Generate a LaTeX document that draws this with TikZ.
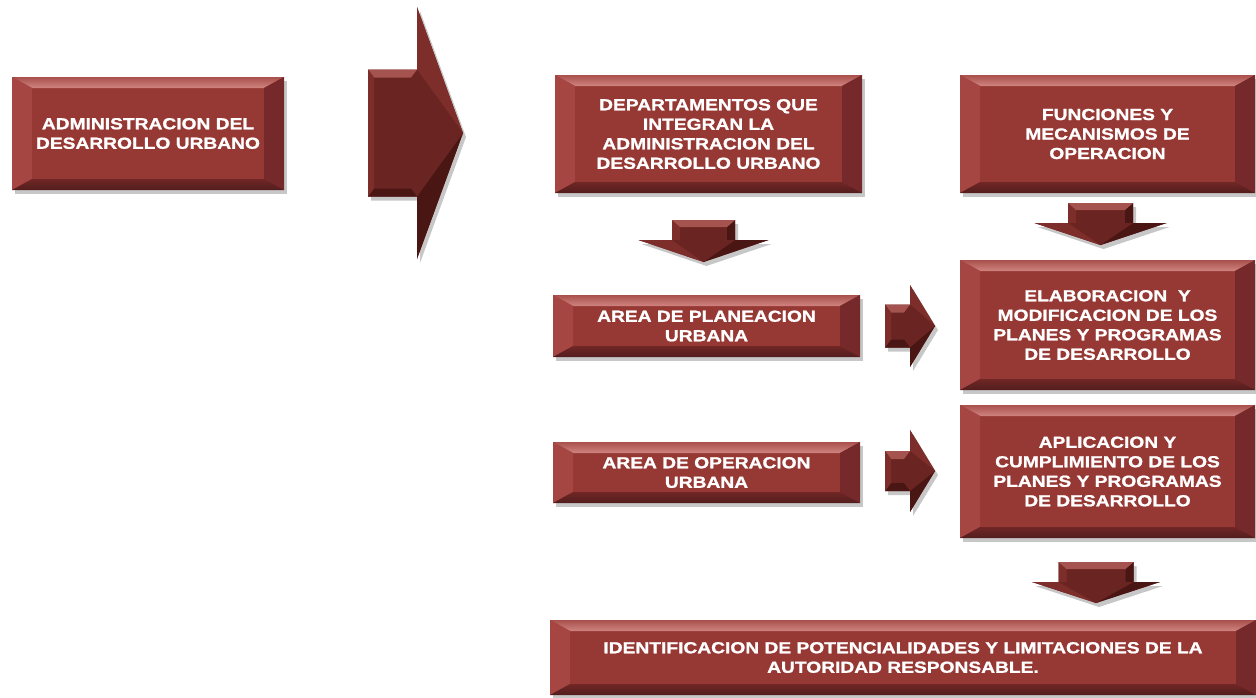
\documentclass[tikz,border=0pt]{standalone}
\usepackage{fontspec}
\newfontfamily\boxfont{Liberation Sans}[FakeStretch=1.2, BoldFeatures={FakeBold=1.2}]
\usetikzlibrary{calc,shadows}
\definecolor{boxred}{HTML}{963834}
\definecolor{bevtop}{HTML}{D08480}
\definecolor{bevtopedge}{HTML}{A9504C}
\definecolor{bevleft}{HTML}{A64643}
\definecolor{bevright}{HTML}{76292A}
\definecolor{bevbot}{HTML}{702725}
\definecolor{arrmain}{HTML}{6A2421}
\definecolor{arrlight}{HTML}{7E2E2A}
\definecolor{arrdark}{HTML}{4A1614}
\definecolor{arrtop}{HTML}{A4534E}
\tikzset{
  shade box/.style={drop shadow={shadow xshift=3pt, shadow yshift=-4pt, fill=black, opacity=0.22}},
  box/.style={shade box, fill=boxred, inner sep=0pt, align=center, text=white,
    font=\boxfont\bfseries\fontsize{16}{19.5}\selectfont,
    path picture={
      \path (path picture bounding box.north west) coordinate (pNW)
            (path picture bounding box.north east) coordinate (pNE)
            (path picture bounding box.south west) coordinate (pSW)
            (path picture bounding box.south east) coordinate (pSE);
      \shade[top color=bevtopedge, bottom color=bevtop] (pNW) -- (pNE) -- ([shift={(-20pt,-11pt)}]pNE) -- ([shift={(20pt,-11pt)}]pNW) -- cycle;
      \fill[bevleft] (pNW) -- ([shift={(20pt,-11pt)}]pNW) -- ([shift={(20pt,11pt)}]pSW) -- (pSW) -- cycle;
      \fill[bevright] (pNE) -- ([shift={(-20pt,-11pt)}]pNE) -- ([shift={(-20pt,11pt)}]pSE) -- (pSE) -- cycle;
      \shade[top color=bevbot, bottom color=bevright!70!black] (pSW) -- ([shift={(20pt,11pt)}]pSW) -- ([shift={(-20pt,11pt)}]pSE) -- (pSE) -- cycle;
    }},
  arrowshape/.style={shade box, fill=arrmain},
}
% down block arrow: cx, shaft half width, shaft top, head y, head half width, tip y
\newcommand\DownBlock[6]{%
  \path[arrowshape] (#1-#2,#3) -- (#1+#2,#3) -- (#1+#2,#4) -- (#1+#5,#4) -- (#1,#6) -- (#1-#5,#4) -- (#1-#2,#4) -- cycle;
  \fill[arrlight] (#1-#2,#3) -- (#1-#2+8,#3+7) -- (#1-#2+8,#4) -- (#1-#2,#4) -- cycle;
  \fill[arrdark] (#1+#2,#3) -- (#1+#2-8,#3+7) -- (#1+#2-8,#4) -- (#1+#2,#4) -- cycle;
  \fill[arrtop] (#1-#2,#3) -- (#1+#2,#3) -- (#1+#2-8,#3+7) -- (#1-#2+8,#3+7) -- cycle;
  \fill[arrlight] (#1-#5,#4) -- (#1,#6) -- (#1,#4) -- cycle;
  \fill[arrdark] (#1+#5,#4) -- (#1,#6) -- (#1,#4) -- cycle;
  \fill[arrmain] (#1-#2,#4) -- (#1+#2,#4) -- (#1,#6) -- cycle;
}
% right block arrow: left x, head x, tip x, cy, shaft half height, head half height
\newcommand\RightBlock[6]{%
  \path[arrowshape] (#1,#4-#5) -- (#2,#4-#5) -- (#2,#4-#6) -- (#3,#4) -- (#2,#4+#6) -- (#2,#4+#5) -- (#1,#4+#5) -- cycle;
  \fill[arrlight] (#2,#4-#6) -- (#3,#4) -- (#2,#4) -- cycle;
  \fill[arrdark] (#2,#4+#6) -- (#3,#4) -- (#2,#4) -- cycle;
  \fill[arrmain] (#2,#4-#5) -- (#3,#4) -- (#2,#4+#5) -- cycle;
  \fill[arrtop] (#1,#4-#5) -- (#2,#4-#5) -- (#2-6,#4-#5+8) -- (#1+6,#4-#5+8) -- cycle;
  \fill[arrdark] (#1,#4+#5) -- (#2,#4+#5) -- (#2-6,#4+#5-8) -- (#1+6,#4+#5-8) -- cycle;
  \fill[arrlight] (#1,#4-#5) -- (#1+6,#4-#5+8) -- (#1+6,#4+#5-8) -- (#1,#4+#5) -- cycle;
}
\begin{document}
\begin{tikzpicture}[x=1pt, y=-1pt]
\useasboundingbox (0,0) rectangle (1256,697);
\fill[white] (0,0) rectangle (1256,697);

\node[box, minimum width=272pt, minimum height=113pt] (admin) at (148,133.5)
  {ADMINISTRACION DEL\\DESARROLLO URBANO};
\node[box, minimum width=307pt, minimum height=118pt] (dept) at (708.5,134)
  {DEPARTAMENTOS QUE\\INTEGRAN LA\\ADMINISTRACION DEL\\DESARROLLO URBANO};
\node[box, minimum width=295pt, minimum height=118pt] (func) at (1107.5,134)
  {FUNCIONES Y\\MECANISMOS DE\\OPERACION};
\node[box, minimum width=307pt, minimum height=62pt] (plan) at (706.5,326)
  {AREA DE PLANEACION\\URBANA};
\node[box, minimum width=295pt, minimum height=130pt] (elab) at (1107.5,325)
  {ELABORACION\ \ Y\\MODIFICACION DE LOS\\PLANES Y PROGRAMAS\\DE DESARROLLO};
\node[box, minimum width=307pt, minimum height=61pt] (oper) at (706.5,472.5)
  {AREA DE OPERACION\\URBANA};
\node[box, minimum width=295pt, minimum height=133pt] (apli) at (1107.5,471.5)
  {APLICACION Y\\CUMPLIMIENTO DE LOS\\PLANES Y PROGRAMAS\\DE DESARROLLO};
\node[box, minimum width=706pt, minimum height=75pt] (ident) at (903,657.5)
  {IDENTIFICACION DE POTENCIALIDADES Y LIMITACIONES DE LA\\AUTORIDAD RESPONSABLE.};

% big right arrow
\RightBlock{368}{417}{463}{133}{63.5}{126}
% down arrows
\DownBlock{703.5}{31.5}{220}{240}{65}{262}
\DownBlock{1100.5}{32.5}{203}{223}{66}{245}
\DownBlock{1096}{37.5}{562}{582}{64}{603}
% small right arrows
\RightBlock{885}{910}{935}{326}{21.5}{41}
\RightBlock{885}{910}{935}{471}{20}{41}
\end{tikzpicture}
\end{document}
